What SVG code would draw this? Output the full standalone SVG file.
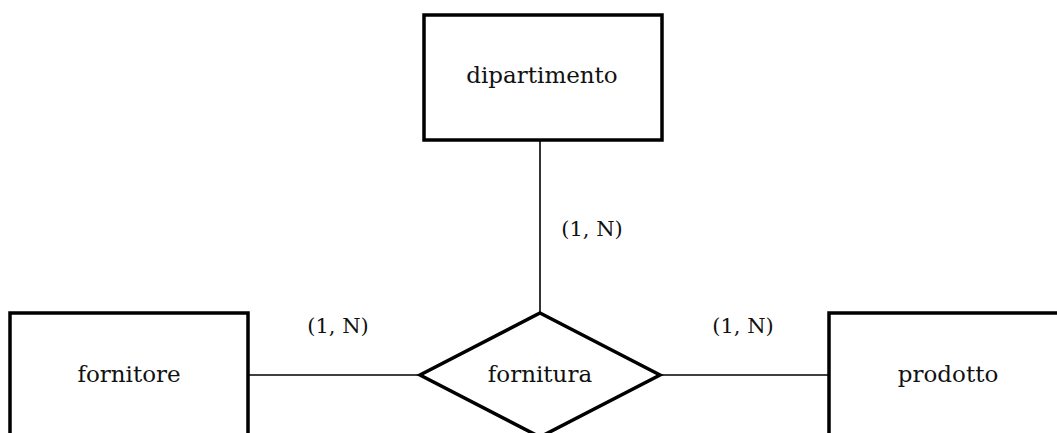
<svg xmlns="http://www.w3.org/2000/svg" width="1057" height="433" viewBox="0 0 1057 433">
<style>
.shape{fill:#fff;stroke:#000;stroke-width:3.5}
.conn{stroke:#000;stroke-width:1.6;fill:none}
text{font-family:"DejaVu Serif","Liberation Serif",serif;font-size:23px;fill:#111;text-anchor:middle}
.card{font-size:21px}
</style>
<rect width="1057" height="433" fill="#fff"/>
<g id="connectors">
<line class="conn" x1="540" y1="140" x2="540" y2="313"/>
<line class="conn" x1="248" y1="375" x2="420" y2="375"/>
<line class="conn" x1="660" y1="375" x2="829" y2="375"/>
<text class="card" x="592" y="236">(1, N)</text>
<text class="card" x="338" y="333">(1, N)</text>
<text class="card" x="743" y="333">(1, N)</text>
</g>
<g id="dipartimento">
<rect class="shape" x="424" y="15" width="238" height="125"/>
<text x="542" y="83">dipartimento</text>
</g>
<g id="fornitore">
<rect class="shape" x="10" y="313" width="238" height="125"/>
<text x="129" y="382">fornitore</text>
</g>
<g id="prodotto">
<rect class="shape" x="829" y="313" width="238" height="125"/>
<text x="948" y="382">prodotto</text>
</g>
<g id="fornitura">
<polygon class="shape" points="540,313 660,375 540,437 420,375"/>
<text x="540" y="382">fornitura</text>
</g>
</svg>
